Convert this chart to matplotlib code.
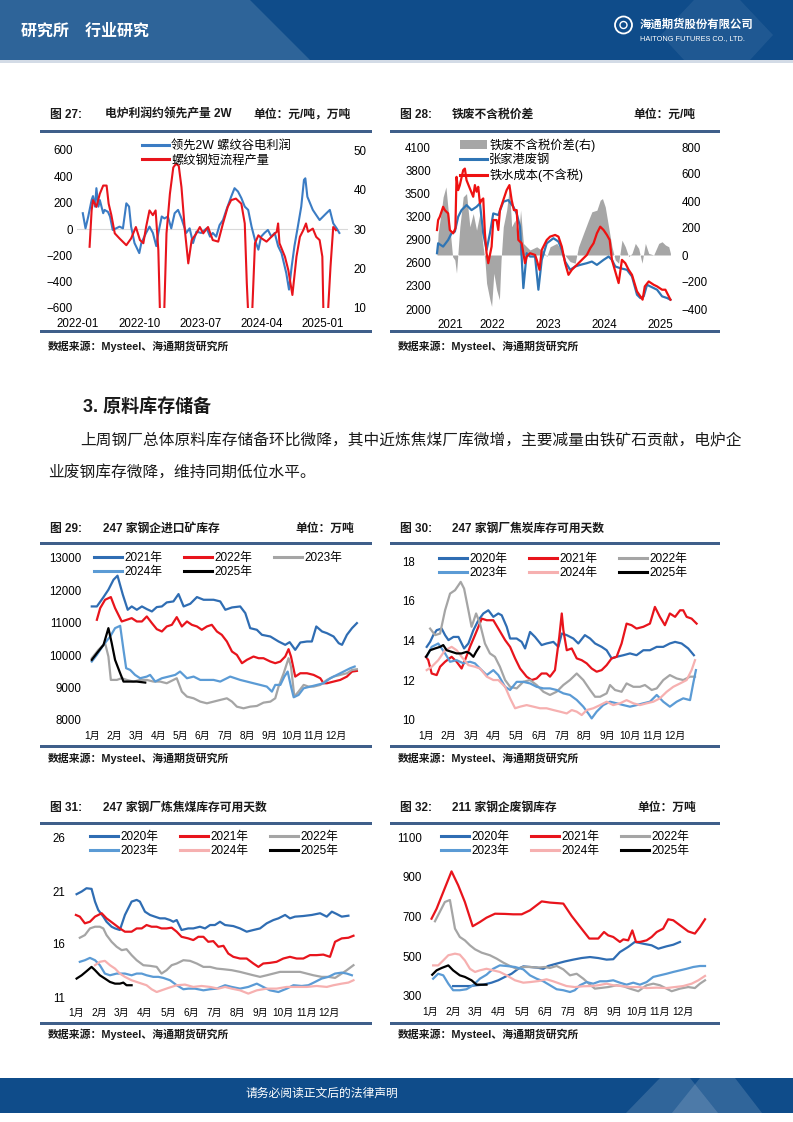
import matplotlib
matplotlib.use('Agg')
import matplotlib.pyplot as plt
from matplotlib.patches import Rectangle, Polygon, Ellipse, Patch

plt.rcParams['font.family'] = ['Liberation Sans', 'Noto Sans CJK SC']
plt.rcParams['axes.unicode_minus'] = True

# ---------------- data ----------------
# fig 27: month index from 2022-01
c27_xticks = [0, 9, 18, 27, 36]
c27_xlabels = ['2022-01', '2022-10', '2023-07', '2024-04', '2025-01']
c27_profit_x = [0.7, 1.1, 1.5, 2.0, 2.2, 2.5, 2.7, 3.0, 3.2, 3.7, 3.9, 4.4, 4.7, 5.1, 5.6, 6.1, 6.6, 7.1, 7.5, 7.8,
                8.3, 9.0, 9.3, 10.0, 10.5, 11.0, 11.5, 11.8, 12.3, 12.7, 13.2, 13.7, 14.2, 14.7, 15.2, 15.9, 16.4, 16.9, 17.4, 18.1,
                18.9, 19.4, 19.8, 20.3, 20.8, 21.3, 21.8, 22.5, 23.0, 23.5, 24.0, 24.5, 25.0, 25.5, 26.0, 26.5, 26.9, 27.4, 27.9, 28.4,
                28.9, 29.4, 29.9, 30.6, 31.0, 31.4, 31.8, 32.3, 32.8, 33.2, 33.4, 33.7, 34.1, 34.5, 35.0, 35.5, 36.0, 36.5, 37.0, 37.5,
                38.0, 38.4]
c27_profit = [120, 5, 94, 221, 250, 170, 310, 170, 220, 120, 145, 130, 95, -7, 5, 18, 5, 195, 170, 18,
              -107, -183, -107, -30, 18, -30, -130, -30, 95, 80, 95, 5, 120, 145, 80, -30, 5, -107, -20, -30,
              5, -58, -30, -58, 30, 68, 145, 245, 310, 285, 235, 170, 145, 18, -83, -157, -58, -30, -7, -58,
              -30, -130, -183, -335, -460, -283, -130, 18, 170, 373, 385, 245, 195, 145, 106, 68, 94, 120, 145, 43,
              5, -30]
c27_output_x = [1.7, 2.0, 2.2, 2.7, 3.2, 3.7, 4.2, 4.5, 4.9, 5.4, 6.1, 7.1, 7.8, 8.5, 9.1, 9.6, 10.0, 10.5, 11.0, 11.4,
                11.8, 12.1, 12.6, 13.0, 13.5, 14.0, 14.4, 14.8, 15.2, 15.7, 16.2, 16.7, 17.4, 17.9, 18.4, 19.1, 19.8, 20.6, 21.3, 22.0,
                22.5, 23.2, 24.0, 24.5, 24.8, 25.1, 25.5, 26.0, 26.5, 27.0, 27.7, 28.4, 29.2, 29.4, 29.6, 30.4, 30.9, 31.5, 32.1, 32.6,
                33.1, 33.5, 33.8, 34.5, 35.0, 35.5, 35.9, 36.1, 36.6, 37.1, 37.5, 37.9]
c27_output = [25.5, 34.7, 37.3, 35.6, 38.9, 41.0, 41.0, 36.4, 33.5, 28.9, 27.6, 25.9, 27.6, 30.5, 27.2, 26.4, 30.5, 34.7, 33.5, 34.7,
              24.7, 5, 5, 28.9, 38.9, 45.6, 46.5, 46.0, 40.6, 29.7, 21.3, 27.2, 28.9, 30.5, 28.9, 30.5, 27.2, 26.8, 31.4, 35.6,
              37.3, 37.7, 36.4, 31.4, 16.3, 5, 5, 26.4, 28.4, 27.6, 26.8, 28.0, 29.3, 31.4, 26.4, 23.0, 19.6, 13.3, 23.0, 28.0,
              29.7, 31.4, 29.3, 30.1, 28.0, 27.2, 23.0, 5, 5, 20.5, 30.5, 29.7]

# fig 28: fractional years
c28_years = [2021, 2022, 2023, 2024, 2025]
c28_cost_x = [2021.0, 2021.02, 2021.05, 2021.11, 2021.14, 2021.2, 2021.23, 2021.29, 2021.33, 2021.35, 2021.38, 2021.41,
              2021.47, 2021.5, 2021.53, 2021.59, 2021.65, 2021.68, 2021.71, 2021.74, 2021.77, 2021.8, 2021.83, 2021.86,
              2021.89, 2021.92, 2021.98, 2022.01, 2022.07, 2022.1, 2022.13, 2022.19, 2022.25, 2022.3, 2022.34, 2022.38,
              2022.43, 2022.46, 2022.52, 2022.58, 2022.61, 2022.67, 2022.76, 2022.79, 2022.84, 2022.88, 2022.97, 2023.03,
              2023.12, 2023.18, 2023.24, 2023.3, 2023.36, 2023.42, 2023.51, 2023.6, 2023.69, 2023.75, 2023.81, 2023.87,
              2023.93, 2023.99, 2024.05, 2024.1, 2024.14, 2024.2, 2024.26, 2024.32, 2024.38, 2024.44, 2024.5, 2024.59,
              2024.65, 2024.69, 2024.73, 2024.8, 2024.89, 2024.95, 2025.04, 2025.1, 2025.16, 2025.19]
c28_cost = [3024, 3153, 3196, 3325, 3282, 3239, 3024, 2981, 3046, 3713, 3541, 3606,
            3799, 3820, 3670, 3562, 3455, 3606, 3520, 3584, 3369, 3412, 3433, 2981,
            2723, 2594, 2809, 3153, 3153, 3024, 3282, 3412, 3541, 3606, 3412, 3282,
            3282, 2895, 2852, 2594, 2680, 2723, 2701, 2637, 2508, 2766, 2895, 2938,
            2960, 2938, 2809, 2594, 2443, 2508, 2572, 2637, 2701, 2787, 2852, 2981,
            3067, 3024, 2960, 2895, 2637, 2486, 2336, 2637, 2594, 2508, 2443, 2228,
            2164, 2121, 2293, 2357, 2314, 2293, 2250, 2250, 2164, 2121]
c28_scrap_x = [2021.0, 2021.02, 2021.11, 2021.2, 2021.26, 2021.32, 2021.38, 2021.44, 2021.53, 2021.62, 2021.71, 2021.77,
               2021.83, 2021.89, 2021.95, 2022.01, 2022.1, 2022.19, 2022.28, 2022.37, 2022.43, 2022.49, 2022.55, 2022.61,
               2022.67, 2022.76, 2022.82, 2022.88, 2022.97, 2023.09, 2023.18, 2023.24, 2023.3, 2023.39, 2023.48, 2023.57,
               2023.69, 2023.78, 2023.87, 2023.99, 2024.08, 2024.14, 2024.2, 2024.29, 2024.41, 2024.5, 2024.59, 2024.65,
               2024.71, 2024.77, 2024.89, 2024.95, 2025.04, 2025.13, 2025.19]
c28_scrap = [2723, 2852, 2809, 2895, 2981, 3003, 3196, 3282, 3347, 3282, 3325, 3369,
             2981, 2766, 2981, 3239, 3218, 3390, 3412, 3325, 3239, 3067, 2271, 2723,
             2680, 2680, 2250, 2637, 2852, 2917, 2874, 2766, 2615, 2508, 2551, 2572,
             2594, 2615, 2572, 2637, 2680, 2637, 2551, 2529, 2508, 2422, 2185, 2142,
             2164, 2314, 2271, 2250, 2164, 2142, 2121]
c28_spread_x = [2021.0, 2021.02, 2021.08, 2021.11, 2021.16, 2021.2, 2021.23, 2021.28, 2021.32, 2021.35, 2021.41, 2021.47,
                2021.53, 2021.59, 2021.65, 2021.71, 2021.77, 2021.82, 2021.86, 2021.89, 2021.95, 2021.98, 2022.02, 2022.07,
                2022.12, 2022.15, 2022.19, 2022.25, 2022.3, 2022.34, 2022.4, 2022.46, 2022.5, 2022.55, 2022.61, 2022.67,
                2022.79, 2022.91, 2022.97, 2023.03, 2023.15, 2023.27, 2023.39, 2023.48, 2023.54, 2023.63, 2023.72, 2023.78,
                2023.87, 2023.93, 2023.97, 2024.02, 2024.08, 2024.14, 2024.2, 2024.26, 2024.32, 2024.38, 2024.44, 2024.5,
                2024.56, 2024.62, 2024.68, 2024.74, 2024.8, 2024.89, 2024.98, 2025.04, 2025.1, 2025.16, 2025.19]
c28_spread = [0, 160, 332, 430, 504, 332, 209, -12, -37, -135, 209, 430,
              455, 209, 307, 184, 307, 86, -37, -209, -332, -381, -135, -258,
              -332, -37, 209, 332, 504, 209, 258, 110, 332, 86, 61, 37,
              61, 25, -12, 61, 86, 12, -49, -61, 61, 160, 258, 320,
              332, 406, 418, 356, 209, 61, -37, -61, 110, 61, -12, 12,
              86, 49, -61, 86, 12, 0, 86, 98, 74, 61, 12]

# fig 29-32: month position (0 = 1月)
months = ['1月', '2月', '3月', '4月', '5月', '6月', '7月', '8月', '9月', '10月', '11月', '12月']

c29_labels = ['2021年', '2022年', '2023年', '2024年', '2025年']
c29_x = [
    [0, 0.23, 0.53, 0.75, 0.98, 1.16, 1.40, 1.62, 1.80, 2.03, 2.26, 2.48, 2.71, 2.93, 3.16, 3.38, 3.68, 3.91, 4.14, 4.44,
     4.74, 5.04, 5.49, 5.79, 6.02, 6.32, 6.69, 6.92, 7.14, 7.44, 7.67, 8.05, 8.42, 8.72, 8.92, 9.17, 9.40, 9.70, 9.92, 10.12,
     10.38, 10.60, 10.90, 11.13, 11.28, 11.50, 11.73, 11.95],
    [0.23, 0.38, 0.60, 0.86, 1.05, 1.35, 1.58, 1.80, 2.03, 2.26, 2.48, 2.71, 2.93, 3.16, 3.38, 3.61, 3.83, 4.06, 4.29, 4.51,
     4.74, 4.96, 5.19, 5.41, 5.64, 5.86, 6.09, 6.32, 6.54, 6.77, 6.99, 7.29, 7.52, 7.74, 8.05, 8.27, 8.50, 8.72, 8.87, 8.98,
     9.17, 9.40, 9.70, 10.00, 10.30, 10.45, 10.60, 10.90, 11.20, 11.50, 11.73, 11.95],
    [0, 0.30, 0.60, 0.75, 0.86, 1.13, 1.35, 1.58, 1.88, 2.18, 2.48, 2.78, 3.08, 3.38, 3.68, 3.83, 4.06, 4.29, 4.59, 4.89,
     5.19, 5.49, 5.79, 6.09, 6.32, 6.54, 6.84, 7.14, 7.44, 7.74, 8.05, 8.27, 8.42, 8.65, 8.87, 8.98, 9.13, 9.32, 9.55, 9.77,
     10.00, 10.30, 10.60, 10.90, 11.20, 11.50, 11.73, 11.95],
    [0, 0.23, 0.53, 0.83, 1.05, 1.28, 1.43, 1.55, 1.73, 1.95, 2.18, 2.48, 2.63, 2.86, 3.16, 3.46, 3.76, 3.98, 4.29, 4.59,
     4.89, 5.19, 5.49, 5.79, 6.24, 6.69, 6.99, 7.29, 7.59, 7.89, 8.12, 8.27, 8.50, 8.68, 8.83, 8.98, 9.10, 9.32, 9.55, 9.85,
     10.15, 10.45, 10.75, 11.05, 11.35, 11.65, 11.85],
    [0, 0.23, 0.53, 0.75, 0.90, 1.05, 1.28, 1.43, 1.65, 2.03, 2.41],
]
c29_y = [
    [11505, 11505, 11794, 12021, 12330, 12454, 11866, 11402, 11505, 11402, 11505, 11423, 11350, 11485, 11505, 11629, 11660,
     11887, 11505, 11588, 11794, 11711, 11711, 11660, 11402, 11474, 11505, 11299, 10835, 10784, 10629, 10577, 10423, 10320,
     10402, 10165, 10392, 10423, 10423, 10887, 10732, 10680, 10577, 10371, 10320, 10629, 10835, 10990],
    [11093, 11454, 11711, 11794, 11454, 11041, 11093, 11144, 11041, 11041, 11196, 10990, 10804, 10732, 10887, 10938, 11175,
     10887, 11041, 10938, 10887, 10784, 10887, 10938, 10732, 10629, 10423, 10113, 10010, 9753, 9856, 9959, 9907, 9907, 9804,
     9753, 9804, 9959, 10186, 9959, 9340, 9443, 9443, 9392, 9289, 9134, 9134, 9186, 9237, 9340, 9495, 9516],
    [9907, 10165, 10371, 9959, 9237, 9237, 9289, 9237, 9186, 9237, 9237, 9186, 9186, 9134, 9237, 9289, 8876, 8722, 8670,
     8567, 8515, 8567, 8619, 8670, 8567, 8412, 8361, 8412, 8433, 8536, 8567, 8670, 9031, 9443, 9907, 9650, 8722, 8876, 9083,
     9031, 9031, 9083, 9237, 9340, 9392, 9443, 9546, 9567],
    [9804, 10010, 10320, 10577, 10835, 10907, 10165, 9598, 9546, 9392, 9289, 9340, 9392, 9186, 9289, 9340, 9392, 9495, 9289,
     9340, 9237, 9237, 9237, 9186, 9340, 9237, 9186, 9134, 9083, 9031, 8876, 9083, 9083, 9340, 9495, 9031, 8701, 8773, 8979,
     9031, 9083, 9134, 9289, 9392, 9495, 9598, 9650],
    [9856, 10062, 10320, 10835, 10371, 9856, 9443, 9186, 9186, 9186, 9155],
]

year_labels = ['2020年', '2021年', '2022年', '2023年', '2024年', '2025年']
c30_x = [
    [0.03, 0.18, 0.32, 0.47, 0.69, 0.84, 0.99, 1.21, 1.43, 1.68, 1.87, 2.09, 2.31, 2.53, 2.75, 2.97, 3.19, 3.34, 3.56, 3.71,
     4.00, 4.22, 4.37, 4.59, 4.81, 5.10, 5.32, 5.62, 5.84, 5.99, 6.21, 6.50, 6.72, 7.01, 7.24, 7.46, 7.75, 7.97, 8.19, 8.41,
     8.71, 9.00, 9.29, 9.59, 9.88, 10.18, 10.47, 10.76, 10.99, 11.28, 11.57, 11.82],
    [0, 0.10, 0.25, 0.47, 0.62, 0.84, 1.13, 1.35, 1.57, 1.72, 1.94, 2.16, 2.46, 2.68, 2.97, 3.19, 3.49, 3.71, 3.93, 4.15,
     4.44, 4.66, 4.88, 5.10, 5.32, 5.47, 5.69, 5.88, 5.99, 6.06, 6.21, 6.43, 6.65, 6.87, 7.09, 7.31, 7.53, 7.75, 7.97, 8.19,
     8.41, 8.63, 8.85, 9.07, 9.29, 9.59, 9.88, 10.10, 10.32, 10.54, 10.76, 10.99, 11.21, 11.35, 11.50, 11.72, 11.94],
    [0.18, 0.40, 0.62, 0.84, 1.06, 1.28, 1.43, 1.53, 1.68, 1.87, 2.01, 2.21, 2.38, 2.60, 2.82, 3.04, 3.26, 3.49, 3.71, 4.00,
     4.29, 4.59, 4.88, 5.18, 5.47, 5.76, 6.06, 6.35, 6.65, 6.94, 7.24, 7.46, 7.68, 7.97, 8.12, 8.34, 8.63, 8.85, 9.15, 9.44,
     9.66, 9.96, 10.18, 10.47, 10.76, 11.06, 11.35, 11.65, 11.87],
    [0.03, 0.25, 0.54, 0.84, 1.06, 1.35, 1.65, 1.94, 2.16, 2.38, 2.68, 2.97, 3.19, 3.49, 3.71, 4.00, 4.29, 4.59, 4.88, 5.18,
     5.47, 5.76, 6.06, 6.35, 6.65, 6.94, 7.16, 7.31, 7.53, 7.82, 8.12, 8.41, 8.71, 9.00, 9.29, 9.59, 9.88, 10.18, 10.47, 10.76,
     11.06, 11.35, 11.65, 11.79, 11.91],
    [0.03, 0.25, 0.54, 0.84, 1.13, 1.35, 1.57, 1.87, 2.16, 2.38, 2.68, 2.97, 3.19, 3.49, 3.71, 3.93, 4.15, 4.44, 4.74, 5.03,
     5.32, 5.62, 5.91, 6.21, 6.43, 6.65, 6.87, 7.09, 7.38, 7.68, 7.97, 8.26, 8.56, 8.85, 9.15, 9.44, 9.74, 10.03, 10.32, 10.62,
     10.91, 11.21, 11.50, 11.72, 11.87],
    [0, 0.18, 0.40, 0.62, 0.76, 0.91, 1.13, 1.35, 1.57, 1.79, 1.94, 2.09, 2.21, 2.35],
]
c30_y = [
    [13.68, 13.93, 14.27, 14.52, 14.60, 14.27, 14.02, 14.18, 14.18, 13.60, 13.85, 14.52, 15.02, 15.36, 15.52, 15.19, 15.36,
     15.27, 14.69, 14.10, 14.10, 13.93, 13.60, 14.43, 14.18, 13.77, 13.85, 13.93, 13.68, 14.35, 14.27, 14.10, 13.85, 14.27,
     14.10, 13.85, 13.68, 13.51, 13.10, 13.18, 13.26, 13.35, 13.26, 13.51, 13.51, 13.68, 13.68, 13.85, 13.93, 13.85, 13.60, 13.26],
    [13.18, 13.01, 12.34, 12.26, 12.68, 12.93, 13.18, 12.93, 12.59, 13.01, 13.68, 14.27, 15.10, 15.02, 15.02, 14.60, 14.02,
     13.68, 13.10, 12.59, 12.18, 12.01, 12.09, 12.34, 12.34, 12.18, 12.51, 14.18, 15.36, 14.52, 13.51, 13.60, 13.10, 13.01,
     12.85, 12.59, 12.43, 12.51, 12.76, 13.10, 13.18, 13.85, 14.85, 14.77, 14.60, 14.69, 14.85, 15.69, 15.19, 14.77, 15.36,
     15.19, 15.52, 15.52, 15.19, 15.10, 14.85],
    [14.60, 14.27, 14.35, 15.52, 16.36, 16.53, 16.78, 16.95, 16.61, 15.52, 14.69, 15.36, 14.85, 13.85, 13.35, 13.18, 12.68,
     12.01, 11.67, 11.59, 11.92, 12.01, 11.76, 11.42, 11.26, 11.42, 11.76, 12.01, 12.34, 12.01, 11.51, 11.17, 11.17, 11.34,
     11.76, 11.51, 11.42, 11.84, 11.67, 11.67, 11.76, 11.51, 11.59, 12.01, 12.26, 12.09, 12.01, 12.18, 12.18],
    [13.18, 13.68, 13.85, 13.35, 12.93, 13.01, 12.85, 12.93, 12.85, 12.59, 12.26, 12.51, 12.26, 11.67, 11.51, 11.92, 11.92,
     11.84, 11.67, 11.59, 11.59, 11.51, 11.34, 11.26, 11.01, 10.67, 10.33, 10.08, 10.42, 10.75, 10.92, 10.84, 10.75, 10.67,
     10.75, 10.84, 10.92, 11.26, 10.92, 10.67, 10.92, 11.09, 11.00, 11.84, 12.51],
    [12.51, 12.68, 13.01, 13.51, 13.68, 13.51, 13.18, 12.76, 12.68, 12.59, 12.18, 12.01, 12.01, 11.67, 11.09, 10.59, 10.67,
     10.75, 10.67, 10.59, 10.59, 10.50, 10.42, 10.33, 10.50, 10.42, 10.25, 10.50, 10.59, 10.75, 10.92, 10.75, 10.84, 11.00,
     10.84, 10.75, 10.84, 10.92, 11.09, 11.42, 11.67, 11.84, 12.01, 12.51, 13.01],
    [13.18, 13.51, 13.60, 13.68, 13.77, 13.51, 13.43, 13.35, 13.35, 13.43, 13.35, 13.18, 13.43, 13.68],
]

c31_x = [
    [0.03, 0.25, 0.46, 0.68, 0.83, 0.97, 1.19, 1.33, 1.55, 1.70, 1.91, 2.13, 2.42, 2.64, 2.78, 3.00, 3.22, 3.43, 3.65, 3.87,
     4.09, 4.23, 4.38, 4.59, 4.88, 5.10, 5.39, 5.61, 5.83, 6.04, 6.26, 6.48, 6.84, 7.13, 7.42, 7.71, 8.00, 8.29, 8.58, 8.80,
     9.09, 9.30, 9.52, 9.88, 10.25, 10.61, 10.90, 11.12, 11.33, 11.55, 11.84],
    [0, 0.17, 0.39, 0.61, 0.83, 1.12, 1.33, 1.62, 1.91, 2.13, 2.42, 2.64, 2.86, 3.07, 3.29, 3.51, 3.72, 3.94, 4.16, 4.38,
     4.59, 4.88, 5.10, 5.32, 5.54, 5.75, 5.97, 6.19, 6.41, 6.62, 6.84, 7.13, 7.42, 7.71, 7.93, 8.14, 8.43, 8.72, 9.01, 9.30,
     9.59, 9.88, 10.17, 10.46, 10.75, 11.04, 11.26, 11.55, 11.84, 12.06],
    [0.17, 0.39, 0.61, 0.83, 1.04, 1.19, 1.33, 1.55, 1.77, 1.99, 2.20, 2.42, 2.64, 2.93, 3.22, 3.51, 3.72, 3.94, 4.16, 4.38,
     4.67, 4.96, 5.25, 5.54, 5.83, 6.12, 6.41, 6.77, 7.13, 7.42, 7.71, 8.00, 8.29, 8.58, 8.87, 9.30, 9.74, 10.03, 10.32, 10.68,
     10.97, 11.26, 11.55, 11.77, 12.06],
    [0.17, 0.39, 0.61, 0.83, 1.04, 1.26, 1.48, 1.77, 2.13, 2.42, 2.64, 2.86, 3.07, 3.36, 3.58, 3.80, 4.09, 4.38, 4.67, 4.88,
     5.17, 5.54, 5.83, 6.12, 6.48, 6.77, 7.13, 7.49, 7.86, 8.14, 8.43, 8.80, 9.16, 9.45, 9.81, 10.10, 10.39, 10.68, 10.97,
     11.26, 11.55, 11.77, 11.99],
    [0.83, 1.04, 1.26, 1.48, 1.70, 1.91, 2.13, 2.42, 2.64, 2.86, 3.07, 3.29, 3.51, 3.72, 4.01, 4.38, 4.74, 5.10, 5.46, 5.83,
     6.19, 6.48, 6.77, 7.13, 7.49, 7.86, 8.29, 8.72, 9.16, 9.59, 10.03, 10.46, 10.90, 11.19, 11.55, 11.84, 12.06],
    [0.03, 0.25, 0.46, 0.68, 0.83, 1.04, 1.26, 1.48, 1.70, 1.91, 2.06, 2.20, 2.42],
]
c31_y = [
    [20.70, 20.95, 21.26, 21.20, 20.00, 19.21, 18.58, 18.10, 17.63, 17.47, 17.32, 18.74, 20.00, 20.16, 20.00, 19.05, 18.74,
     18.58, 18.42, 18.42, 18.26, 18.10, 18.26, 17.32, 17.47, 17.47, 17.63, 17.47, 17.79, 17.79, 18.10, 17.79, 17.69, 17.47,
     17.16, 17.32, 17.47, 17.95, 18.26, 18.42, 18.74, 18.42, 18.58, 18.64, 18.74, 18.90, 18.58, 19.05, 18.83, 18.58, 18.67],
    [18.74, 18.58, 17.95, 18.10, 18.58, 18.90, 18.42, 17.95, 17.47, 17.16, 17.16, 17.47, 17.47, 17.79, 17.63, 17.63, 17.47,
     17.47, 17.54, 17.16, 16.68, 16.53, 16.37, 16.68, 16.68, 16.21, 16.27, 15.74, 15.83, 15.10, 14.79, 14.63, 14.63, 14.16,
     13.84, 14.16, 14.22, 14.32, 14.63, 14.79, 14.63, 14.63, 14.95, 14.95, 15.00, 14.79, 16.21, 16.53, 16.59, 16.78],
    [16.59, 16.84, 17.47, 17.63, 17.63, 17.47, 16.84, 16.21, 15.74, 15.42, 15.51, 14.95, 14.47, 14.00, 13.94, 13.84, 13.21,
     13.53, 14.00, 14.16, 14.47, 14.41, 14.16, 13.84, 13.84, 13.68, 13.62, 13.53, 13.37, 13.21, 13.05, 12.90, 13.05, 13.21,
     13.37, 13.37, 13.37, 13.21, 13.05, 12.90, 12.90, 12.80, 13.21, 13.53, 14.00],
    [14.32, 14.47, 14.69, 14.47, 14.00, 13.21, 13.05, 13.21, 13.21, 13.05, 13.21, 13.21, 13.05, 12.90, 12.90, 12.80, 12.58,
     12.11, 11.73, 11.79, 11.79, 11.63, 11.73, 11.79, 12.11, 11.95, 11.79, 11.95, 12.26, 11.95, 11.63, 11.47, 11.79, 12.11,
     12.04, 12.11, 12.42, 12.74, 12.90, 13.21, 13.30, 13.21, 13.05],
    [14.00, 14.32, 14.41, 14.00, 13.68, 13.21, 12.90, 12.58, 12.42, 12.26, 12.11, 11.73, 11.47, 11.63, 11.85, 12.11, 12.17,
     11.95, 12.04, 11.95, 11.79, 11.95, 11.79, 11.63, 11.32, 11.63, 11.79, 11.79, 11.95, 11.95, 11.95, 12.04, 11.95, 12.11,
     12.26, 12.36, 12.58],
    [12.74, 13.05, 13.43, 13.84, 13.53, 13.05, 12.74, 12.42, 12.26, 12.26, 12.36, 12.11, 12.11],
]

c32_x = [
    [1.01, 1.30, 1.74, 2.03, 2.32, 2.68, 2.97, 3.26, 3.55, 3.84, 4.06, 4.35, 4.64, 4.93, 5.14, 5.51, 5.87, 6.23, 6.59, 6.96,
     7.32, 7.68, 7.97, 8.26, 8.62, 8.91, 9.28, 9.64, 9.93, 10.29, 10.58, 10.87],
    [0.07, 0.29, 0.58, 0.94, 1.23, 1.52, 1.86, 2.17, 2.46, 2.83, 3.26, 3.62, 3.99, 4.35, 4.86, 5.22, 5.80, 6.16, 6.59, 6.93,
     7.32, 7.57, 7.75, 7.97, 8.26, 8.41, 8.62, 8.80, 8.96, 9.13, 9.42, 9.64, 9.86, 10.14, 10.36, 10.58, 10.87, 11.23, 11.52,
     11.74, 11.96],
    [0.22, 0.43, 0.65, 0.87, 1.09, 1.30, 1.52, 1.74, 1.96, 2.25, 2.61, 2.90, 3.19, 3.48, 3.77, 4.06, 4.35, 4.71, 5.00, 5.22,
     5.51, 5.80, 6.09, 6.38, 6.67, 6.96, 7.17, 7.39, 7.75, 8.12, 8.41, 8.70, 9.06, 9.42, 9.71, 10.00, 10.29, 10.51, 10.87,
     11.23, 11.52, 11.74, 11.96],
    [0.14, 0.36, 0.58, 0.80, 1.01, 1.30, 1.59, 1.88, 2.17, 2.46, 2.75, 3.04, 3.33, 3.70, 4.06, 4.35, 4.64, 4.93, 5.22, 5.51,
     5.80, 6.09, 6.30, 6.52, 6.81, 7.10, 7.39, 7.68, 7.97, 8.26, 8.55, 8.84, 9.13, 9.42, 9.71, 10.00, 10.29, 10.58, 10.87,
     11.16, 11.45, 11.74, 11.96],
    [0.14, 0.36, 0.58, 0.80, 1.09, 1.30, 1.52, 1.74, 1.96, 2.17, 2.46, 2.75, 3.04, 3.33, 3.70, 4.06, 4.35, 4.71, 5.07, 5.36,
     5.65, 5.94, 6.30, 6.67, 7.03, 7.32, 7.68, 7.97, 8.33, 8.70, 9.06, 9.42, 9.86, 10.29, 10.65, 11.01, 11.38, 11.67, 11.96],
    [0.10, 0.29, 0.51, 0.80, 1.01, 1.30, 1.52, 1.81, 2.03, 2.25, 2.46],
]
c32_y = [
    [350, 350, 350, 354, 357, 367, 379, 396, 412, 437, 449, 446, 443, 437, 451, 463, 474, 483, 491, 496, 491, 483, 485, 521,
     547, 572, 563, 555, 538, 550, 558, 572],
    [689, 739, 823, 927, 857, 773, 651, 672, 694, 714, 713, 711, 711, 731, 776, 770, 765, 703, 639, 589, 589, 622, 605, 597,
     572, 585, 580, 630, 572, 572, 580, 597, 622, 639, 686, 681, 656, 625, 614, 647, 686],
    [676, 723, 773, 783, 639, 597, 580, 555, 535, 518, 505, 488, 468, 451, 437, 446, 446, 443, 446, 441, 451, 434, 404, 412,
     387, 357, 337, 340, 345, 354, 349, 337, 324, 354, 362, 354, 337, 324, 337, 345, 340, 362, 379],
    [387, 412, 404, 362, 329, 329, 334, 354, 387, 407, 437, 454, 451, 446, 434, 404, 387, 374, 354, 334, 329, 320, 329, 354,
     370, 362, 374, 374, 379, 367, 357, 367, 357, 370, 396, 404, 412, 421, 429, 437, 446, 451, 451],
    [454, 454, 479, 505, 513, 508, 479, 437, 421, 429, 437, 429, 421, 404, 379, 367, 370, 375, 384, 374, 362, 350, 345, 349,
     350, 354, 362, 354, 350, 345, 345, 340, 342, 340, 345, 350, 362, 379, 401],
    [407, 429, 441, 454, 429, 404, 396, 379, 357, 357, 357],
]

# ---------------- style ----------------
DARK = '#0f4c8a'
RULE = '#3f5f8a'
TXT = '#1a1a1a'
PAL = ['#2f6db3', '#e8141c', '#a5a5a5', '#5b9bd5', '#f6b0b0', '#000000']
PAL29 = ['#2f6db3', '#e8141c', '#a5a5a5', '#5b9bd5', '#000000']

W, H = 793, 1122
fig = plt.figure(figsize=(W / 100, H / 100), dpi=100)
fig.patch.set_facecolor('white')


def fx(x):
    return x / W


def fy(y):
    return 1 - y / H


def add_ax(x0, y0, x1, y1):
    return fig.add_axes([fx(x0), fy(y1), (x1 - x0) / W, (y1 - y0) / H])


def rect(x0, y0, x1, y1, color, **kw):
    fig.add_artist(Rectangle((fx(x0), fy(y1)), (x1 - x0) / W, (y1 - y0) / H, transform=fig.transFigure,
                             facecolor=color, edgecolor='none', **kw))


def poly(pts, color, **kw):
    fig.add_artist(Polygon([(fx(x), fy(y)) for x, y in pts], closed=True, transform=fig.transFigure,
                           facecolor=color, edgecolor='none', **kw))


def txt(x, y, s, size=8, **kw):
    kw.setdefault('color', TXT)
    fig.text(fx(x), fy(y), s, fontsize=size, va='center', **kw)


def clean(ax, xpad=6, ypad=3, xsize=8.3):
    for s in ax.spines.values():
        s.set_visible(False)
    ax.tick_params(axis='both', length=0, labelsize=8.3, colors='black')
    ax.tick_params(axis='x', pad=xpad, labelsize=xsize)
    ax.tick_params(axis='y', pad=ypad)
    ax.patch.set_visible(False)


def frame(x0, x1, y_top, y_bot, y_title, num, title, title_x, unit=None, unit_x=None, y_src=None):
    txt(x0 + 10, y_title, num, 8.5, fontweight='bold')
    txt(title_x, y_title, title, 8.5, fontweight='bold')
    if unit:
        txt(unit_x, y_title, unit, 8.5, fontweight='bold')
    rect(x0, y_top - 1.5, x1, y_top + 1.5, RULE)
    rect(x0, y_bot - 1.5, x1, y_bot + 1.5, RULE)
    txt(x0 + 8, y_src, '数据来源：Mysteel、海通期货研究所', 7.8, fontweight='bold')


def year_legend(lines, labels, x, y):
    # legend fills column by column, reorder so rows read left to right
    order = [0, 3, 1, 4, 2] if len(lines) == 5 else [0, 3, 1, 4, 2, 5]
    leg = fig.legend([lines[i] for i in order], [labels[i] for i in order], ncol=3, loc='upper left',
                     bbox_to_anchor=(fx(x), fy(y)), bbox_transform=fig.transFigure, frameon=False,
                     fontsize=8.5, handlelength=2.35, handletextpad=0.25, columnspacing=1.8,
                     labelspacing=0.2, borderpad=0, borderaxespad=0)
    for h in leg.legend_handles:
        h.set_linewidth(2.2)


# ---------------- page header / footer ----------------
rect(0, 0, W, 60, DARK)
poly([(0, 0), (250, 0), (310, 60), (0, 60)], '#2e6499')
poly([(694, 0), (740, 0), (773, 35), (750, 60), (684, 60), (661, 35)], 'white', alpha=0.07)
rect(0, 60, W, 62.5, '#d3dbe6')
txt(21, 31, '研究所　行业研究', 11.5, color='white', fontweight='bold')
fig.add_artist(Ellipse((fx(623.5), fy(25)), 17 / W, 17 / H, transform=fig.transFigure, facecolor='none',
                       edgecolor='white', lw=1.3))
fig.add_artist(Ellipse((fx(623.5), fy(25)), 7 / W, 7 / H, transform=fig.transFigure, facecolor='none',
                       edgecolor='white', lw=1.0))
txt(640, 24.5, '海通期货股份有限公司', 8.2, color='white', fontweight='bold')
txt(640, 39, 'HAITONG FUTURES CO., LTD.', 5.3, color='white')

rect(0, 1078, W, 1113, DARK)
poly([(626, 1113), (660, 1078), (690, 1078), (718, 1113)], 'white', alpha=0.14)
poly([(672, 1113), (700, 1078), (735, 1078), (762, 1113)], 'white', alpha=0.14)
txt(245, 1094, '请务必阅读正文后的法律声明', 8.5, color='white')

# ---------------- body text ----------------
txt(83, 407, '3. 原料库存储备', 13, fontweight='bold')
txt(80, 441, '上周钢厂总体原料库存储备环比微降，其中近炼焦煤厂库微增，主要减量由铁矿石贡献，电炉企', 11.3)
txt(48, 472, '业废钢库存微降，维持同期低位水平。', 11.3)

# ---------------- fig 27 ----------------
frame(40, 372, 131, 331, 115, '图 27:', '电炉利润约领先产量 2W', 105, '单位：元/吨，万吨', 253, 346)
ax = add_ax(77, 150, 348, 308)
ax.axhline(0, color='#d9d9d9', lw=0.8, zorder=0)
l1, = ax.plot(c27_profit_x, c27_profit, color='#3b7cc4', lw=1.5)
ax.set_ylim(-600, 600)
ax.set_yticks(range(-600, 601, 200))
ax.set_xlim(-0.15, 39.67)
ax.set_xticks(c27_xticks)
ax.set_xticklabels(c27_xlabels)
ax2 = ax.twinx()
l2, = ax2.plot(c27_output_x, c27_output, color='#e8141c', lw=1.5)
ax2.set_ylim(10, 50)
ax2.set_yticks(range(10, 51, 10))
clean(ax, xpad=7)
clean(ax2, ypad=4)
leg = fig.legend([l1, l2], ['领先2W 螺纹谷电利润', '螺纹钢短流程产量'], loc='upper left',
                 bbox_to_anchor=(fx(142), fy(140)), bbox_transform=fig.transFigure, frameon=False,
                 fontsize=8.8, handlelength=2.2, handletextpad=0.2, labelspacing=0.22, borderpad=0, borderaxespad=0)
for h in leg.legend_handles:
    h.set_linewidth(2.2)

# ---------------- fig 28 ----------------
frame(390, 720, 131, 331, 115, '图 28:', '铁废不含税价差', 452, '单位：元/吨', 633, 346)
ax = add_ax(435, 147, 676, 309)
ax2 = ax.twinx()
ax2.fill_between(c28_spread_x, c28_spread, 0, color='#a6a6a6', lw=0)
ax2.set_ylim(-400, 800)
ax2.set_yticks(range(-400, 801, 200))
lb, = ax.plot(c28_scrap_x, c28_scrap, color='#2f75b5', lw=1.6)
lr, = ax.plot(c28_cost_x, c28_cost, color='#ee1111', lw=1.6)
ax.set_ylim(2000, 4100)
ax.set_yticks(range(2000, 4101, 300))
ax.set_xlim(2020.964, 2025.29)
ax.set_xticks(c28_years)
ax.set_xticklabels([str(y) for y in c28_years])
ax.get_xticklabels()[0].set_ha('left')
ax.set_zorder(ax2.get_zorder() + 1)
clean(ax, xpad=7)
clean(ax2, ypad=4)
leg = fig.legend([Patch(facecolor='#a6a6a6'), lb, lr], ['铁废不含税价差(右)', '张家港废钢', '铁水成本(不含税)'],
                 loc='upper left', bbox_to_anchor=(fx(460), fy(138)), bbox_transform=fig.transFigure,
                 frameon=False, fontsize=8.8, handlelength=2.2, handletextpad=0.2, labelspacing=0.22,
                 borderpad=0, borderaxespad=0)
for h in leg.legend_handles[1:]:
    h.set_linewidth(2.2)

# ---------------- fig 29 ----------------
frame(40, 372, 543, 746, 529, '图 29:', '247 家钢企进口矿库存', 103, '单位：万吨', 295, 758)
ax = add_ax(86, 558, 360, 720)
lines = [ax.plot(x, y, color=c, lw=1.6)[0] for x, y, c in zip(c29_x, c29_y, PAL29)]
ax.set_ylim(8000, 13000)
ax.set_yticks(range(8000, 13001, 1000))
ax.set_xlim(-0.26, 12.09)
ax.set_xticks(range(12))
ax.set_xticklabels(months)
clean(ax, xpad=8, xsize=7.2)
year_legend(lines, c29_labels, 94, 552)

# ---------------- fig 30 ----------------
frame(390, 720, 543, 746, 529, '图 30:', '247 家钢厂焦炭库存可用天数', 452, y_src=758)
ax = add_ax(419, 561, 700, 720)
lines = [ax.plot(x, y, color=c, lw=1.6)[0] for x, y, c in zip(c30_x, c30_y, PAL)]
ax.set_ylim(10, 18)
ax.set_yticks(range(10, 19, 2))
ax.set_xlim(-0.31, 12.09)
ax.set_xticks(range(12))
ax.set_xticklabels(months)
clean(ax, xpad=8, xsize=7.2)
year_legend(lines, year_labels, 439, 553)

# ---------------- fig 31 ----------------
frame(40, 372, 823, 1023, 808, '图 31:', '247 家钢厂炼焦煤库存可用天数', 103, y_src=1034)
ax = add_ax(69, 838, 356, 997)
lines = [ax.plot(x, y, color=c, lw=1.6)[0] for x, y, c in zip(c31_x, c31_y, PAL)]
ax.set_ylim(11, 26)
ax.set_yticks([11, 16, 21, 26])
ax.set_xlim(-0.30, 12.17)
ax.set_xticks(range(12))
ax.set_xticklabels(months)
clean(ax, xpad=8, xsize=7.2)
year_legend(lines, year_labels, 90, 831)

# ---------------- fig 32 ----------------
frame(390, 720, 823, 1023, 808, '图 32:', '211 家钢企废钢库存', 452, '单位：万吨', 637, 1034)
ax = add_ax(426, 837, 708, 996)
lines = [ax.plot(x, y, color=c, lw=1.6)[0] for x, y, c in zip(c32_x, c32_y, PAL)]
ax.set_ylim(300, 1100)
ax.set_yticks(range(300, 1101, 200))
ax.set_xlim(-0.17, 12.09)
ax.set_xticks(range(12))
ax.set_xticklabels(months)
clean(ax, xpad=8, xsize=7.2)
year_legend(lines, year_labels, 441, 831)

fig.savefig('out.png', dpi=100, facecolor='white')
